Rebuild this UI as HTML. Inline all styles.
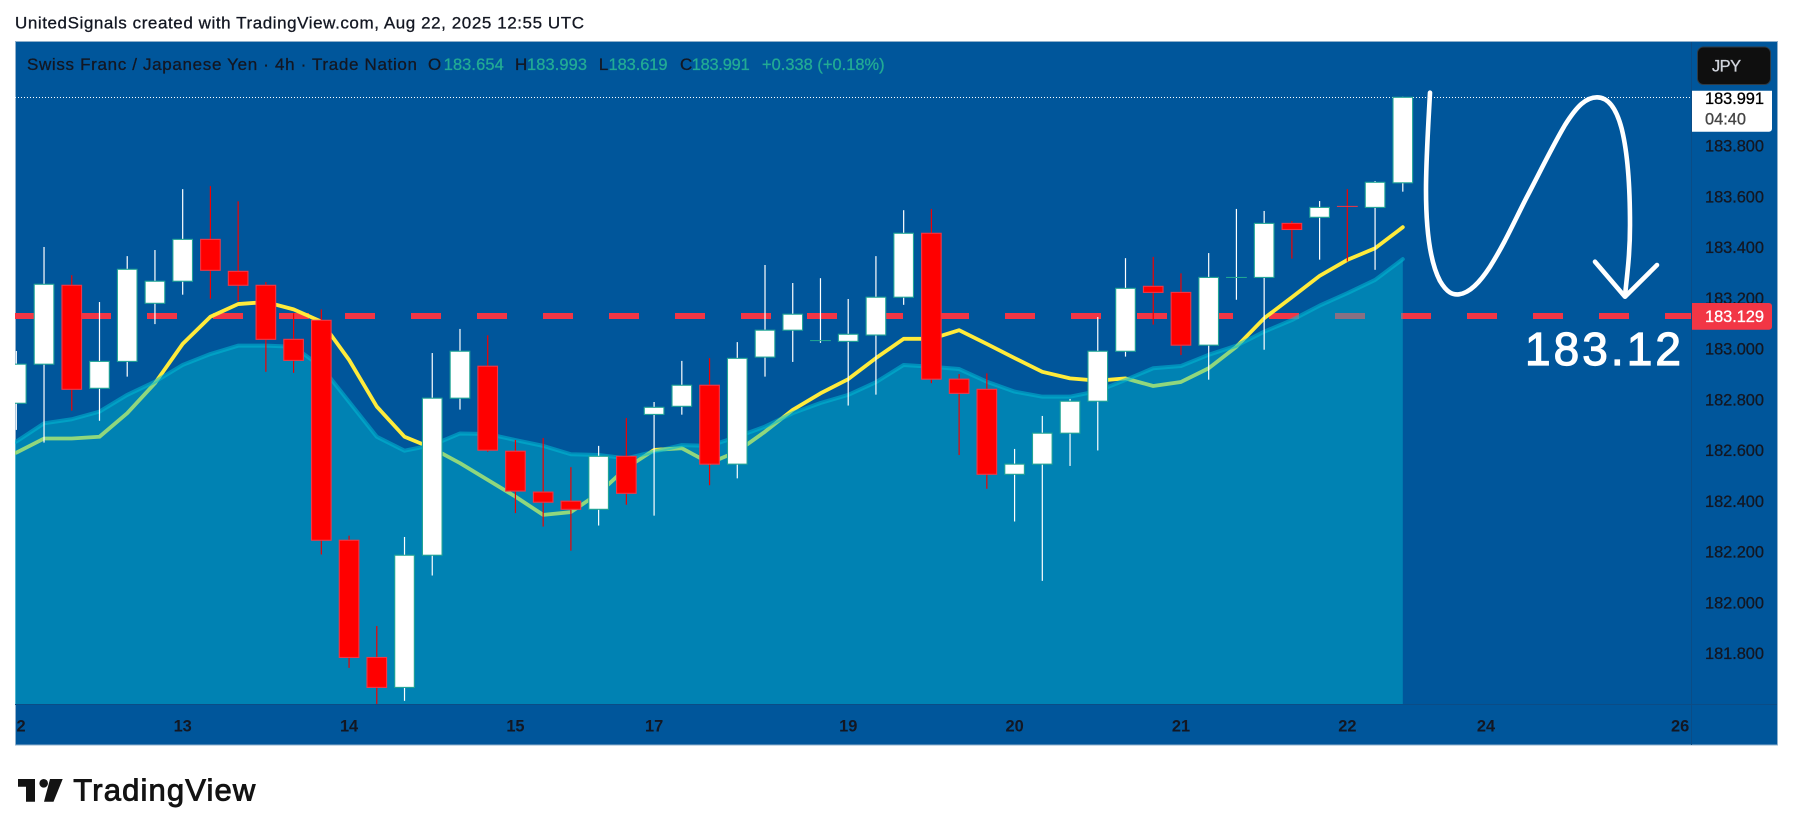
<!DOCTYPE html>
<html lang="en">
<head>
<meta charset="utf-8">
<title>CHF/JPY 4h chart</title>
<style>
html,body{margin:0;padding:0;background:#fff;}
svg{display:block;}
text{font-family:"Liberation Sans",Arial,sans-serif;}
</style>
</head>
<body>
<svg id="chart" xmlns="http://www.w3.org/2000/svg" width="1793" height="836" viewBox="0 0 1793 836">
  <defs>
    <clipPath id="plot-clip"><rect x="15" y="42" width="1677" height="662"/></clipPath>
  </defs>
  <rect x="0" y="0" width="1793" height="836" fill="#ffffff"/>
  <text x="15" y="28.3" font-size="17" fill="#131722" textLength="569" lengthAdjust="spacing">UnitedSignals created with TradingView.com, Aug 22, 2025 12:55 UTC</text>

  <rect x="15.5" y="41.5" width="1762" height="703.5" fill="#00569b" stroke="#8fb0cc" stroke-width="1"/>

  <g id="plot" clip-path="url(#plot-clip)">
    <line x1="15" x2="1692" y1="97.5" y2="97.5" stroke="#ffffff" stroke-width="1" stroke-dasharray="1 2"/>
    <line x1="15" x2="1692" y1="316" y2="316" stroke="#f23645" stroke-width="6" stroke-dasharray="30 36"/>
    <path id="ma-line" fill="none" stroke="#ffeb3b" stroke-width="3.8" stroke-linejoin="round" stroke-linecap="round"/>
    <path id="area-fill" fill="#00bcd4" fill-opacity="0.435" stroke="none"/>
    <path id="area-line" fill="none" stroke="#00bcd4" stroke-opacity="0.55" stroke-width="4" stroke-linejoin="round" stroke-linecap="round"/>
    <g id="candles"></g>
  </g>

  <line x1="1691.5" x2="1691.5" y1="42" y2="745" stroke="#0b4c86" stroke-width="1"/>
  <line x1="15" x2="1777" y1="704.5" y2="704.5" stroke="#0b4c86" stroke-width="1"/>

  <g id="y-axis"></g>
  <g id="x-axis"></g>

  <g>
    <text x="27" y="70" font-size="17" fill="#131722" textLength="390" lengthAdjust="spacing">Swiss Franc  / Japanese Yen · 4h · Trade Nation</text>
    <text x="428" y="70" font-size="17" fill="#131722">O</text>
    <text x="443.7" y="70" font-size="16.4" fill="#22ab94" textLength="60" lengthAdjust="spacing">183.654</text>
    <text x="515" y="70" font-size="17" fill="#131722">H</text>
    <text x="527" y="70" font-size="16.4" fill="#22ab94" textLength="60" lengthAdjust="spacing">183.993</text>
    <text x="598.7" y="70" font-size="17" fill="#131722">L</text>
    <text x="608.5" y="70" font-size="16.4" fill="#22ab94" textLength="59" lengthAdjust="spacing">183.619</text>
    <text x="680" y="70" font-size="17" fill="#131722">C</text>
    <text x="691.7" y="70" font-size="16.4" fill="#22ab94" textLength="58" lengthAdjust="spacing">183.991</text>
    <text x="762" y="70" font-size="16.4" fill="#22ab94" textLength="122.6" lengthAdjust="spacing">+0.338 (+0.18%)</text>
  </g>

  <g>
    <rect x="1697.5" y="47" width="73" height="37.5" rx="6" fill="#0f0f0f" stroke="#2e3a44" stroke-width="1"/>
    <text x="1712" y="71.7" font-size="16.4" fill="#d1d4dc" textLength="29" lengthAdjust="spacing">JPY</text>
  </g>

  <g>
    <path d="M1692 90.7H1772V128.7a3 3 0 0 1-3 3H1692Z" fill="#ffffff"/>
    <text x="1705" y="104" font-size="16.4" fill="#000000" textLength="59" lengthAdjust="spacing">183.991</text>
    <text x="1705" y="124.3" font-size="16.4" fill="#444444" textLength="41" lengthAdjust="spacing">04:40</text>
  </g>

  <g>
    <path d="M1692 303H1769a3 3 0 0 1 3 3V326.7a3 3 0 0 1-3 3H1692Z" fill="#f23645"/>
    <text x="1705" y="322" font-size="16.4" fill="#ffffff" textLength="59" lengthAdjust="spacing">183.129</text>
  </g>

  <g>
    <path fill="none" stroke="#ffffff" stroke-width="4.6" stroke-linecap="round" stroke-linejoin="round" d="M1430 92.7 C1428 130,1426 160,1426 190 C1426 230,1430 262,1440 281 C1447 293,1453 295,1459 294.3 C1470 293,1480 282,1490 266.7 C1505 243,1515 220,1527 196.7 C1540 172,1552 147,1565 125 C1577 106,1586 97.3,1597 97.3 C1609 97.3,1617 110,1622 130 C1628 155,1630 190,1630 225 C1630 255,1627 275,1625 296"/>
    <path fill="none" stroke="#ffffff" stroke-width="4.6" stroke-linecap="round" stroke-linejoin="round" d="M1595 261.7 L1625 296.7 L1657 265"/>
    <text x="1525" y="365" font-size="46" fill="#ffffff" stroke="#ffffff" stroke-width="1.2" textLength="156" lengthAdjust="spacing">183.12</text>
  </g>

  <g>
    <path d="M18 779H35V801.7H26V786.7H18Z" fill="#131313"/>
    <circle cx="43.7" cy="783.3" r="4.3" fill="#131313"/>
    <path d="M50 779H62.7L53.5 801.7H44Z" fill="#131313"/>
    <text x="73.3" y="800.7" font-size="31" fill="#131313" stroke="#131313" stroke-width="0.9" textLength="182" lengthAdjust="spacing">TradingView</text>
  </g>
</svg>

<script>
// Candle values (price, JPY per CHF)
const openValues = [182.785,182.939,183.250,182.844,182.950,183.179,183.266,183.431,183.305,183.250,183.037,183.112,182.245,181.783,181.665,182.186,182.805,182.931,182.596,182.435,182.399,182.367,182.576,182.741,182.773,182.856,182.545,182.967,183.073,183.032,183.029,183.054,183.203,183.455,182.880,182.840,182.505,182.545,182.667,182.793,182.990,183.246,183.222,183.014,183.281,183.281,183.494,183.518,183.561,183.557,183.654];
const highValues = [182.991,183.401,183.290,183.184,183.365,183.389,183.629,183.641,183.581,183.263,183.140,183.155,182.263,181.907,182.258,182.983,183.078,183.053,182.640,182.648,182.533,182.617,182.727,182.790,182.952,182.963,183.026,183.330,183.259,183.278,183.196,183.365,183.546,183.551,182.900,182.903,182.605,182.735,182.802,183.125,183.357,183.362,183.297,183.377,183.551,183.543,183.503,183.582,183.629,183.661,183.993];
const lowValues = [182.680,182.630,182.756,182.716,182.890,183.097,183.213,183.197,183.187,182.909,182.905,182.189,181.742,181.590,181.612,182.106,182.760,182.594,182.352,182.299,182.204,182.303,182.385,182.342,182.740,182.462,182.489,182.890,182.948,183.023,182.776,182.819,183.173,182.864,182.581,182.448,182.319,182.085,182.538,182.599,182.969,183.095,182.975,182.878,183.193,182.996,183.355,183.351,183.344,183.311,183.619];
const closeValues = [182.939,183.254,182.840,182.950,183.313,183.266,183.431,183.309,183.250,183.037,182.954,182.245,181.783,181.665,182.186,182.805,182.990,182.600,182.439,182.395,182.367,182.576,182.430,182.769,182.856,182.545,182.962,183.073,183.136,183.032,183.057,183.203,183.455,182.880,182.824,182.505,182.545,182.667,182.793,182.990,183.238,183.222,183.014,183.281,183.281,183.494,183.470,183.557,183.560,183.656,183.991];
// Yellow moving average
const movingAverageValues = [182.590,182.646,182.646,182.653,182.746,182.864,183.019,183.126,183.176,183.184,183.155,183.107,182.956,182.772,182.653,182.608,182.549,182.483,182.417,182.345,182.356,182.430,182.530,182.601,182.608,182.549,182.595,182.673,182.759,182.824,182.880,182.963,183.039,183.039,183.073,183.019,182.963,182.909,182.883,182.874,182.883,182.853,182.869,182.923,183.008,183.120,183.203,183.287,183.350,183.396,183.479];
// Cyan area series
const areaValues = [182.634,182.706,182.722,182.752,182.818,182.870,182.936,182.979,183.012,183.012,183.008,182.929,182.791,182.653,182.598,182.620,182.666,182.664,182.640,182.617,182.584,182.581,182.568,182.594,182.620,182.617,182.653,182.693,182.746,182.786,182.818,182.868,182.936,182.929,182.920,182.870,182.831,182.811,182.811,182.833,182.877,182.923,182.932,182.976,183.012,183.067,183.113,183.170,183.219,183.271,183.353];
// Axis ticks
const priceTicks = [183.8,183.6,183.4,183.2,183.0,182.8,182.6,182.4,182.2,182.0,181.8];
const timeTickLabels = ["2","13","14","15","17","19","20","21","22","24","26"];
const timeTickBars = [0,6,12,18,23,30,36,42,48,53,60];

const SVG_NS = "http://www.w3.org/2000/svg";
function xScale(i){ return 16.3 + 27.73 * i; }
function yScale(p){ return 97.3 + (183.991 - p) * 253.7; }
const plotBottom = 704;

function linePath(values){
  let d = "M15 " + yScale(values[0]).toFixed(2);
  for (let i = 0; i < values.length; i++) {
    d += "L" + xScale(i).toFixed(2) + " " + yScale(values[i]).toFixed(2);
  }
  return d;
}

document.getElementById("ma-line").setAttribute("d", linePath(movingAverageValues));
document.getElementById("area-line").setAttribute("d", linePath(areaValues));
document.getElementById("area-fill").setAttribute("d",
  linePath(areaValues) + "L" + xScale(areaValues.length - 1).toFixed(2) + " " + plotBottom + "L15 " + plotBottom + "Z");

const candleGroup = document.getElementById("candles");
for (let i = 0; i < openValues.length; i++) {
  const up = closeValues[i] >= openValues[i];
  const cx = xScale(i);
  const wick = document.createElementNS(SVG_NS, "rect");
  
  
  wick.setAttribute("x", (cx - 0.6).toFixed(2));
  wick.setAttribute("width", "1.2");
  wick.setAttribute("y", yScale(highValues[i]).toFixed(2));
  wick.setAttribute("height", (yScale(lowValues[i]) - yScale(highValues[i])).toFixed(2));
  wick.setAttribute("fill", up ? "#ffffff" : "#f00000");
  candleGroup.appendChild(wick);

  const top = yScale(Math.max(openValues[i], closeValues[i]));
  const bottom = yScale(Math.min(openValues[i], closeValues[i]));
  if (bottom - top < 1.5) {
    const doji = document.createElementNS(SVG_NS, "rect");
    
    
    doji.setAttribute("x", (cx - 10.4).toFixed(2));
    doji.setAttribute("width", "20.8");
    doji.setAttribute("y", (top - 0.5).toFixed(2));
    doji.setAttribute("height", "1");
    doji.setAttribute("fill", up ? "#22ab94" : "#f23645");
    candleGroup.appendChild(doji);
  } else {
    const body = document.createElementNS(SVG_NS, "rect");
    
    
    body.setAttribute("x", (cx - 9.8).toFixed(2));
    body.setAttribute("width", "19.6");
    body.setAttribute("y", top.toFixed(2));
    body.setAttribute("height", (bottom - top).toFixed(2));
    body.setAttribute("fill", up ? "#ffffff" : "#ff0000");
    body.setAttribute("stroke", up ? "#22a596" : "#f23645");
    body.setAttribute("stroke-width", "1.1");
    candleGroup.appendChild(body);
  }
}

const yAxis = document.getElementById("y-axis");
for (const p of priceTicks) {
  const t = document.createElementNS(SVG_NS, "text");
  
  
  t.setAttribute("x", "1705");
  t.setAttribute("y", (yScale(p) + 5.9).toFixed(2));
  t.setAttribute("font-size", "16.4");
  t.setAttribute("fill", "#131722");
  t.setAttribute("textLength", "59");
  t.setAttribute("lengthAdjust", "spacing");
  t.textContent = p.toFixed(3);
  yAxis.appendChild(t);
}

const xAxis = document.getElementById("x-axis");
for (let k = 0; k < timeTickLabels.length; k++) {
  const t = document.createElementNS(SVG_NS, "text");
  
  
  const tx = xScale(timeTickBars[k]);
  t.setAttribute("x", (k === 0 ? tx + 4.8 : tx).toFixed(2));
  t.setAttribute("y", "731.7");
  t.setAttribute("text-anchor", "middle");
  t.setAttribute("font-size", "16.4");
  t.setAttribute("font-weight", "bold");
  t.setAttribute("fill", "#131722");
  t.textContent = timeTickLabels[k];
  xAxis.appendChild(t);
}

// Thicken small labels slightly to match the reference text weight
for (const t of document.querySelectorAll("#chart text")) {
  if (!t.hasAttribute("stroke") && t.getAttribute("font-weight") !== "bold") {
    t.setAttribute("stroke", t.getAttribute("fill"));
    t.setAttribute("stroke-width", "0.3");
  }
}
</script>
</body>
</html>
